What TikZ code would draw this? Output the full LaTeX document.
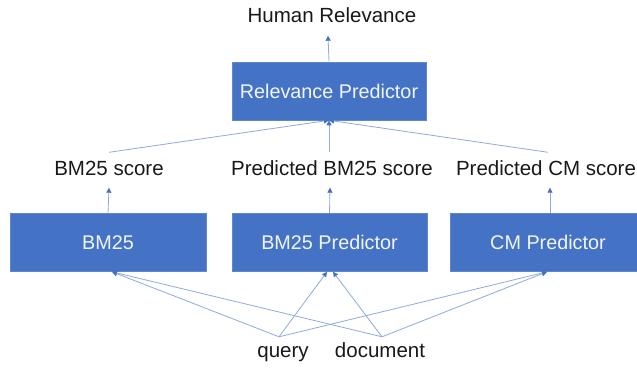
\documentclass[tikz,border=0pt]{standalone}
\usepackage{fontspec}
\setmainfont{Liberation Sans}
\usetikzlibrary{arrows.meta}
\definecolor{boxblue}{HTML}{4472C4}
\definecolor{lineblue}{HTML}{8FAADC}
\definecolor{boxtext}{HTML}{F2F5FB}
\tikzset{
  modelbox/.style={fill=boxblue, draw=boxblue!85!white, line width=0.6pt, text=boxtext,
    minimum height=58pt, inner sep=0pt, font=\fontsize{19.8}{22}\selectfont},
  lbl/.style={inner xsep=0pt, inner ysep=8.5pt, text height=14pt, text depth=4pt,
    font=\fontsize{20.5}{22}\selectfont, text=black!90},
  inp/.style={inner xsep=0pt, inner ysep=6pt, text height=14pt, text depth=4pt,
    font=\fontsize{20.5}{22}\selectfont, text=black!90},
  arr/.style={draw=lineblue, line width=0.8pt,
    -{Triangle[width=5pt,length=5pt,fill=boxblue,color=boxblue]}},
}
\begin{document}
\begin{tikzpicture}[x=1pt,y=-1pt]
\useasboundingbox (0,0) rectangle (637,369);
\clip (0,0) rectangle (637,369);
\fill[white] (0,0) rectangle (637,369);
% top
\node[lbl] (hr) at (332,18) {Human Relevance};
\node[modelbox, minimum width=194pt] (rp) at (329,91) {Relevance Predictor};
% score labels
\node[lbl] (l1) at (109,170) {BM25 score};
\node[lbl] (l2) at (332,170) {Predicted BM25 score};
\node[lbl] (l3) at (546,170) {Predicted CM score};
% bottom boxes
\node[modelbox, minimum width=196pt] (b1) at (108,242.5) {BM25};
\node[modelbox, minimum width=195pt] (b2) at (329.5,242.5) {BM25 Predictor};
\node[modelbox, minimum width=195pt] (b3) at (548,242.5) {CM Predictor};
% inputs
\node[inp] (q) at (283,352) {query};
\node[inp] (d) at (380,352) {document};
\coordinate (qp) at ([xshift=-4pt]q.north);
\coordinate (dp) at ([xshift=2pt]d.north);
% connectors
\draw[arr] (rp.north) -- ([xshift=-4pt]hr.south);
\draw[arr] (l1.north) -- (rp.south);
\draw[arr] ([xshift=2pt]l3.north) -- (rp.south);
\draw[arr] ([xshift=-3pt]l2.north) -- (rp.south);
\draw[arr] (b1.north) -- (l1.south);
\draw[arr] (b2.north) -- ([xshift=-2pt]l2.south);
\draw[arr] ([xshift=2pt]b3.north) -- ([xshift=4pt]l3.south);
\draw[arr] (qp) -- ([xshift=4pt]b1.south);
\draw[arr] (qp) -- ([xshift=-2.5pt]b2.south);
\draw[arr] (qp) -- ([xshift=-1pt]b3.south);
\draw[arr] (dp) -- ([xshift=4pt]b1.south);
\draw[arr] (dp) -- ([xshift=3.5pt]b2.south);
\draw[arr] (dp) -- ([xshift=-1pt]b3.south);
\end{tikzpicture}
\end{document}
